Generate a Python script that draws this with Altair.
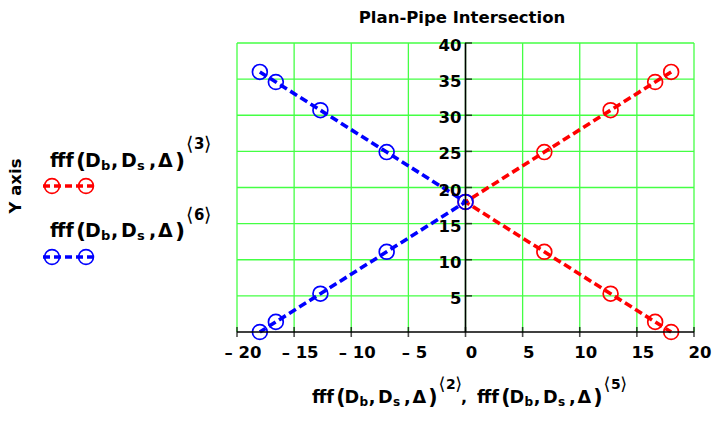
import altair as alt
import pandas as pd

# Pipe outline coordinates: series <2>,<3> (right, red) and <5>,<6> (left, blue)
y_vals = [36, 34.6, 30.7, 24.9, 18, 11.1, 5.3, 1.4, 0]
x_right = [18, 16.6, 12.7, 6.9, 0, 6.9, 12.7, 16.6, 18]
x_left = [-18, -16.6, -12.7, -6.9, 0, -6.9, -12.7, -16.6, -18]

x_ticks = [-20, -15, -10, -5, 0, 5, 10, 15, 20]
x_tick_labels = ["– 20", "– 15", "– 10", "– 5", "0", "5", "10", "15", "20"]
y_ticks = [5, 10, 15, 20, 25, 30, 35, 40]
y_tick_labels = ["5", "10", "15", "20", "25", "30", "35", "40"]

FONT = "DejaVu Sans"
RED = "#ff0000"
BLUE = "#0000ff"
GRID = "#44ff44"

W, H = 457, 289
LEFT, TOP = 237, 43
X_MIN, X_MAX, Y_MIN, Y_MAX = -20, 20, 0, 40

xs = alt.Scale(domain=[X_MIN, X_MAX], nice=False, zero=False)
ys = alt.Scale(domain=[Y_MIN, Y_MAX], nice=False, zero=False)

red = pd.DataFrame({"x": x_right, "y": y_vals, "i": range(len(y_vals))})
blue = pd.DataFrame({"x": x_left, "y": y_vals, "i": range(len(y_vals))})
xt = pd.DataFrame({"v": x_ticks, "lab": x_tick_labels,
                   "lo": Y_MIN, "hi": Y_MAX, "zero": 0})
yt = pd.DataFrame({"v": y_ticks, "lab": y_tick_labels,
                   "lo": X_MIN, "hi": X_MAX, "zero": 0})
axes_df = pd.DataFrame({"x0": [X_MIN], "x1": [X_MAX], "y0": [Y_MIN],
                        "y1": [Y_MAX], "zero": [0]})


def X(field):
    return alt.X(field, type="quantitative", scale=xs, axis=None)


def Y(field):
    return alt.Y(field, type="quantitative", scale=ys, axis=None)


# green grid (outer lines form the frame)
grid_v = alt.Chart(xt).mark_rule(color=GRID, strokeWidth=1.3).encode(
    x=X("v"), y=Y("lo"), y2="hi")
grid_h = alt.Chart(yt).mark_rule(color=GRID, strokeWidth=1.3).encode(
    y=Y("v"), x=X("lo"), x2="hi")

# crossing axes
axis_x = alt.Chart(axes_df).mark_rule(color="black", strokeWidth=1.6).encode(
    x=X("x0"), x2="x1", y=Y("zero"))
axis_y = alt.Chart(axes_df).mark_rule(color="black", strokeWidth=1.6).encode(
    x=X("zero"), y=Y("y0"), y2="y1")
ticks_x = alt.Chart(xt).mark_tick(orient="vertical", size=10, thickness=1.6,
                                  color="black").encode(
    x=X("v"), y=Y("zero"))
ticks_y = alt.Chart(yt).mark_tick(orient="horizontal", size=7, thickness=1.6,
                                  color="black", xOffset=3).encode(
    y=Y("v"), x=X("zero"))
labels_x = alt.Chart(xt).mark_text(font=FONT, fontWeight="bold", fontSize=16.5,
                                   align="center", baseline="middle",
                                   dy=21, dx=6, color="black").encode(
    x=X("v"), y=Y("zero"), text="lab:N")
labels_y = alt.Chart(yt).mark_text(font=FONT, fontWeight="bold", fontSize=16.5,
                                   align="right", baseline="middle",
                                   dx=-4, dy=3, color="black").encode(
    y=Y("v"), x=X("zero"), text="lab:N")


def series(df, color):
    line = alt.Chart(df).mark_line(color=color, strokeWidth=3.6,
                                   strokeDash=[8, 4]).encode(
        x=X("x"), y=Y("y"), order="i:Q")
    pts = alt.Chart(df).mark_point(shape="circle", filled=False, size=220,
                                   strokeWidth=1.7, color=color, opacity=1).encode(
        x=X("x"), y=Y("y"))
    return [line, pts]


def txt(text, x, y, size, align="left", angle=None, weight="bold"):
    kw = dict(font=FONT, fontWeight=weight, fontSize=size,
              align=align, baseline="alphabetic", color="black")
    if angle is not None:
        kw["angle"] = angle
        kw["baseline"] = "middle"
    return alt.Chart(pd.DataFrame({"t": [text]})).mark_text(**kw).encode(
        x=alt.value(x - LEFT), y=alt.value(y - TOP), text="t:N")


def formula(x0, base, sup, s=1.0, sup_dy=-18):
    # fff(D_b, D_s, Δ) with superscript column index <sup>
    parts = [("fff", 0, 0, 19), ("(", 26, 1, 22), ("D", 35, 0, 19),
             ("b", 51, 3, 13), (",", 61, 0, 19), ("D", 71, 0, 19),
             ("s", 87, 3, 13), (",", 99, 0, 19), ("Δ", 108, 0, 19),
             (")", 125, 1, 22)]
    out = [txt(t, x0 + dx * s, base + dy * s, sz * s) for t, dx, dy, sz in parts]
    sb = base + sup_dy
    out.append(txt("⟨", x0 + 136 * s, sb + 1, 19 * s, weight="normal"))
    out.append(txt(sup, x0 + 144 * s, sb, 15 * s))
    out.append(txt("⟩", x0 + 154 * s, sb + 1, 19 * s, weight="normal"))
    return out


def legend_sample(cy, color):
    d = pd.DataFrame({"k": [0]})
    rule = alt.Chart(d).mark_rule(color=color, strokeWidth=3.6,
                                  strokeDash=[7, 4]).encode(
        x=alt.value(43 - LEFT), x2=alt.value(97 - LEFT), y=alt.value(cy - TOP))
    dots = [alt.Chart(d).mark_point(shape="circle", filled=False, size=220,
                                    strokeWidth=1.7, color=color, opacity=1).encode(
        x=alt.value(cx - LEFT), y=alt.value(cy - TOP)) for cx in (52, 86)]
    return [rule] + dots


layers = [grid_v, grid_h]
layers += series(red, RED) + series(blue, BLUE)
layers += [axis_x, axis_y, ticks_x, ticks_y, labels_x, labels_y]

# title, axis titles and legend
layers.append(txt("Plan-Pipe Intersection", 462, 23, 16.5, align="center"))
layers.append(txt("Y axis", 16, 186, 16.5, align="center", angle=270))
layers += formula(50, 167, "3")
layers += legend_sample(186, RED)
layers += formula(50, 237, "6", sup_dy=-17)
layers += legend_sample(257, BLUE)
layers += formula(312, 403, "2", s=0.93, sup_dy=-14)
layers.append(txt(",", 461, 403, 16))
layers += formula(477, 403, "5", s=0.93, sup_dy=-14)

chart = alt.layer(*layers).properties(
    width=W, height=H,
    padding={"left": LEFT, "top": TOP, "right": 713 - LEFT - W,
             "bottom": 423 - TOP - H},
    autosize=alt.AutoSizeParams(type="none"),
    background="white",
).configure_view(stroke=None)

chart.save("out.html", embed_options={"renderer": "svg", "actions": False})
